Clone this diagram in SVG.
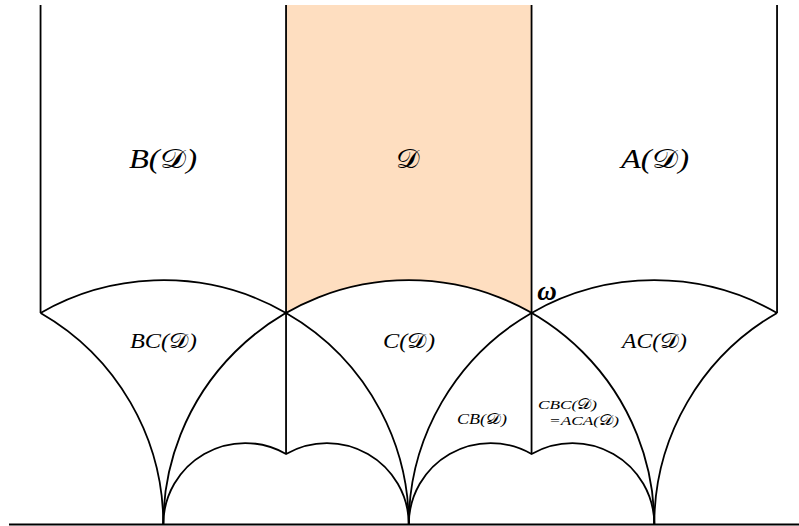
<svg xmlns="http://www.w3.org/2000/svg" width="799" height="526" viewBox="0 0 799 526">
<style>
.ln{fill:none;stroke:#000;stroke-width:1.8;stroke-linejoin:miter}
.t{font-family:"Liberation Serif","DejaVu Serif",serif;font-style:italic;fill:#000;text-anchor:middle}
.cal{font-family:"DejaVu Serif","Liberation Serif",serif;font-style:normal}
</style>
<rect width="799" height="526" fill="#fff"/>
<g id="region-D">
<path d="M286.05,5 L531.55,5 L531.55,312.93 A245.5,244.3 0 0 0 286.05,312.93 Z" fill="#FEDEC0"/>
</g>
<g id="connectors">
<path class="ln" d="M9,524.5 L799,524.5"/>
<path class="ln" d="M40.55,5 L40.55,312.93"/>
<path class="ln" d="M286.05,5 L286.05,453.98"/>
<path class="ln" d="M531.55,5 L531.55,453.98"/>
<path class="ln" d="M777.05,5 L777.05,312.93"/>
<path class="ln" d="M163.3,524.5 A245.5,244.3 0 0 1 654.3,524.5"/>
<path class="ln" d="M40.55,312.93 A245.5,244.3 0 0 1 408.8,524.5"/>
<path class="ln" d="M408.8,524.5 A245.5,244.3 0 0 1 777.05,312.93"/>
<path class="ln" d="M40.55,312.93 A245.5,244.3 0 0 1 163.3,524.5"/>
<path class="ln" d="M654.3,524.5 A245.5,244.3 0 0 1 777.05,312.93"/>
<path class="ln" d="M163.3,524.5 A81.83,81.43 0 0 1 286.05,453.98 A81.83,81.43 0 0 1 408.8,524.5"/>
<path class="ln" d="M408.8,524.5 A81.83,81.43 0 0 1 531.55,453.98 A81.83,81.43 0 0 1 654.3,524.5"/>
</g>
<g id="label-BD"><text class="t" x="163" y="168" font-size="27" textLength="68" lengthAdjust="spacingAndGlyphs">B(<tspan class="cal">𝒟</tspan>)</text></g>
<g id="label-D"><text class="t" x="408" y="168" font-size="27" textLength="24" lengthAdjust="spacingAndGlyphs"><tspan class="cal">𝒟</tspan></text></g>
<g id="label-AD"><text class="t" x="655" y="168" font-size="27" textLength="68" lengthAdjust="spacingAndGlyphs">A(<tspan class="cal">𝒟</tspan>)</text></g>
<g id="label-BCD"><text class="t" x="163.5" y="348" font-size="21" textLength="67" lengthAdjust="spacingAndGlyphs">BC(<tspan class="cal">𝒟</tspan>)</text></g>
<g id="label-CD"><text class="t" x="409" y="348" font-size="21" textLength="52" lengthAdjust="spacingAndGlyphs">C(<tspan class="cal">𝒟</tspan>)</text></g>
<g id="label-ACD"><text class="t" x="654.5" y="348" font-size="21" textLength="65" lengthAdjust="spacingAndGlyphs">AC(<tspan class="cal">𝒟</tspan>)</text></g>
<g id="label-CBD"><text class="t" x="482" y="424" font-size="14.5" textLength="50" lengthAdjust="spacingAndGlyphs">CB(<tspan class="cal">𝒟</tspan>)</text></g>
<g id="label-CBCD"><text class="t" x="567.5" y="409" font-size="13.5" textLength="59" lengthAdjust="spacingAndGlyphs">CBC(<tspan class="cal">𝒟</tspan>)</text>
<text class="t" x="584" y="425" font-size="13.5" textLength="70" lengthAdjust="spacingAndGlyphs">=ACA(<tspan class="cal">𝒟</tspan>)</text></g>
<g id="label-omega"><text class="t" x="547" y="300" font-size="27" font-weight="bold">ω</text></g>
</svg>
